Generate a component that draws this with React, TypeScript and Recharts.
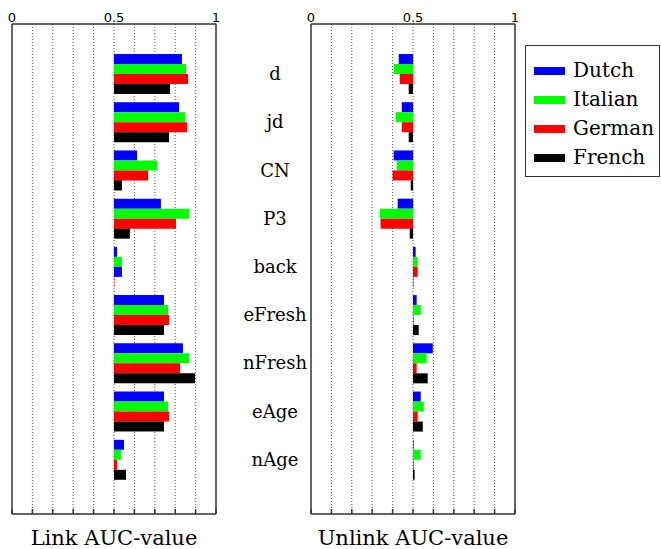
import { BarChart, Bar, XAxis, YAxis, Cell, Label, Legend, ReferenceLine } from "recharts";

const CATEGORIES = ["d", "jd", "CN", "P3", "back", "eFresh", "nFresh", "eAge", "nAge"];
const LANGUAGES = ["Dutch", "Italian", "German", "French"];
const COLORS = ["#0000ff", "#00ff00", "#ff0000", "#000000"];

const LINK_DUTCH = [0.833, 0.819, 0.613, 0.73, 0.515, 0.745, 0.838, 0.745, 0.549];
const LINK_ITALIAN = [0.853, 0.848, 0.711, 0.868, 0.539, 0.765, 0.868, 0.765, 0.534];
const LINK_GERMAN = [0.863, 0.858, 0.667, 0.804, 0.539, 0.77, 0.824, 0.77, 0.515];
const LINK_FRENCH = [0.775, 0.77, 0.539, 0.578, 0.502, 0.745, 0.897, 0.745, 0.559];

const UNLINK_DUTCH = [0.43, 0.445, 0.405, 0.425, 0.513, 0.518, 0.597, 0.538, 0.503];
const UNLINK_ITALIAN = [0.405, 0.415, 0.42, 0.337, 0.523, 0.538, 0.567, 0.553, 0.538];
const UNLINK_GERMAN = [0.435, 0.445, 0.4, 0.341, 0.523, 0.503, 0.518, 0.523, 0.503];
const UNLINK_FRENCH = [0.479, 0.479, 0.489, 0.484, 0.502, 0.528, 0.572, 0.548, 0.508];

const TOP_TICKS = [0, 0.5, 1];
const GRID_TICKS = [0, 0.1, 0.2, 0.3, 0.4, 0.5, 0.6, 0.7, 0.8, 0.9, 1];

// in the link panel the "back" group is drawn with swapped colours in its last two bars
const LINK_RECOLOR: Record<string, Record<string, string>> = {
  German: { back: "#0000ff" },
  French: { back: "#ff0000" },
};

const SERIF = "'DejaVu Serif', serif";
const SANS = "'DejaVu Sans', sans-serif";
const FRAME = "#333";

// bars grow out of the 0.5 line in either direction
function buildRows(series: number[][]) {
  return CATEGORIES.map((cat, i) => {
    const row: Record<string, any> = { cat };
    LANGUAGES.forEach((lang, j) => {
      const v = series[j][i];
      row[lang] = [Math.min(0.5, v), Math.max(0.5, v)];
    });
    return row;
  });
}

function CategoryTick(props: any) {
  const { y, payload } = props;
  return (
    <text x={45} y={y} dy={7} textAnchor="middle" fontFamily={SERIF} fontSize={18} fill="#000">
      {payload.value}
    </text>
  );
}

function TopTick(props: any) {
  const { x, y, payload } = props;
  return (
    <text x={x} y={y} textAnchor="middle" fontFamily={SANS} fontSize={13} fill="#000">
      {String(payload.value)}
    </text>
  );
}

const NoLabel = () => <g />;

function LegendBox({ payload }: any) {
  return (
    <div
      style={{
        width: 135,
        height: 132,
        boxSizing: "border-box",
        border: `1.5px solid ${FRAME}`,
        background: "#fff",
        padding: "10px 0 0 8px",
      }}
    >
      {(payload || []).map((p: any) => (
        <div key={p.value} style={{ display: "flex", alignItems: "center", height: 29 }}>
          <span style={{ width: 31, height: 8, background: p.color, marginRight: 8 }} />
          <span style={{ fontFamily: SERIF, fontSize: 20, color: "#000", lineHeight: "29px" }}>{p.value}</span>
        </div>
      ))}
    </div>
  );
}

type PanelProps = {
  title: string;
  series: number[][];
  width: number;
  margin: { top: number; right: number; bottom: number; left: number };
  showCategories?: boolean;
  showLegend?: boolean;
  recolor?: Record<string, Record<string, string>>;
};

function Panel({ title, series, width, margin, showCategories, showLegend, recolor }: PanelProps) {
  const rows = buildRows(series);
  return (
    <BarChart
      width={width}
      height={549}
      data={rows}
      layout="vertical"
      margin={margin}
      barCategoryGap={5}
      barGap={0}
    >
      {/* dotted vertical grid every 0.1, kept behind the bars */}
      {GRID_TICKS.slice(1, -1).map((t) => (
        <ReferenceLine
          key={t}
          x={t}
          xAxisId="bot"
          yAxisId="cat"
          stroke="#555"
          strokeDasharray="1 2"
          ifOverflow="visible"
          zIndex={-100}
        />
      ))}
      <XAxis
        xAxisId="top"
        orientation="top"
        type="number"
        domain={[0, 1]}
        allowDataOverflow
        ticks={TOP_TICKS}
        height={1}
        tickSize={0}
        tickMargin={2}
        tickLine={false}
        axisLine={{ stroke: FRAME, strokeWidth: 1.5 }}
        tick={(p: any) => <TopTick {...p} />}
        interval={0}
      />
      <XAxis
        xAxisId="bot"
        orientation="bottom"
        type="number"
        domain={[0, 1]}
        allowDataOverflow
        ticks={GRID_TICKS}
        height={1}
        mirror
        tickSize={5}
        tick={NoLabel}
        tickLine={{ stroke: FRAME, strokeWidth: 1.5 }}
        axisLine={{ stroke: FRAME, strokeWidth: 1.5 }}
        interval={0}
      >
        <Label value={title} position="bottom" offset={16} fill="#000" fontSize={21} fontFamily={SERIF} />
      </XAxis>
      <YAxis
        yAxisId="cat"
        type="category"
        dataKey="cat"
        width={1}
        padding={{ top: 25, bottom: 31 }}
        tickLine={false}
        tick={showCategories ? (p: any) => <CategoryTick {...p} /> : false}
        axisLine={{ stroke: FRAME, strokeWidth: 1.5 }}
        interval={0}
      />
      <YAxis
        yAxisId="edge"
        orientation="right"
        type="category"
        dataKey="cat"
        width={1}
        tickLine={false}
        tick={false}
        axisLine={{ stroke: FRAME, strokeWidth: 1.5 }}
      />
      {showLegend && (
        <Legend
          layout="vertical"
          align="right"
          verticalAlign="top"
          itemSorter={(item: any) => LANGUAGES.indexOf(item.value)}
          content={(p: any) => <LegendBox {...p} />}
          wrapperStyle={{ top: 45, right: 1, left: "auto" }}
        />
      )}
      {LANGUAGES.map((lang, j) => (
        <Bar
          key={lang}
          dataKey={lang}
          name={lang}
          xAxisId="bot"
          yAxisId="cat"
          fill={COLORS[j]}
          isAnimationActive={false}
        >
          {rows.map((r) => (
            <Cell key={r.cat} fill={recolor?.[lang]?.[r.cat] ?? COLORS[j]} />
          ))}
        </Bar>
      ))}
    </BarChart>
  );
}

export default function App() {
  return (
    <div style={{ position: "absolute", left: 0, top: 0, width: 661, height: 549, background: "#fff" }}>
      <div style={{ position: "absolute", left: 0, top: 0 }}>
        <Panel
          title="Link AUC-value"
          series={[LINK_DUTCH, LINK_ITALIAN, LINK_GERMAN, LINK_FRENCH]}
          width={230}
          margin={{ top: 23, right: 13, bottom: 35, left: 11 }}
          recolor={LINK_RECOLOR}
        />
      </div>
      <div style={{ position: "absolute", left: 230, top: 0 }}>
        <Panel
          title="Unlink AUC-value"
          series={[UNLINK_DUTCH, UNLINK_ITALIAN, UNLINK_GERMAN, UNLINK_FRENCH]}
          width={431}
          margin={{ top: 23, right: 10, bottom: 35, left: 80 }}
          showCategories
          showLegend
        />
      </div>
    </div>
  );
}
